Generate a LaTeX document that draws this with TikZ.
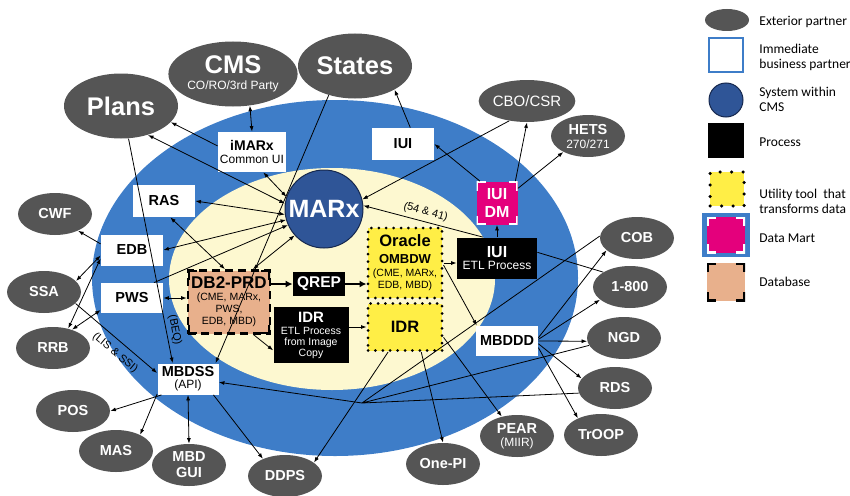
\documentclass[tikz,border=0pt]{standalone}
\usepackage{fontspec}
\setmainfont{Liberation Sans}
\newfontfamily\legendfont{Carlito}
\usetikzlibrary{arrows.meta,shapes.geometric}
\definecolor{ringblue}{RGB}{62,125,200}
\definecolor{cream}{RGB}{253,248,208}
\definecolor{partnergray}{RGB}{85,85,85}
\definecolor{marxblue}{RGB}{47,85,151}
\definecolor{marxdark}{RGB}{22,40,78}
\definecolor{peach}{RGB}{232,176,140}
\definecolor{utilyellow}{RGB}{255,238,70}
\definecolor{dmmagenta}{RGB}{228,0,124}
\newcommand\setfs[2]{\fontsize{#1}{#2}\selectfont}

\begin{document}
\begin{tikzpicture}[x=1pt, y=-1pt, line width=0.8pt, >={Latex[length=5.5pt,width=4pt]},
  cornermarks/.style={path picture={\draw[#1, solid, line cap=butt, line width=3.5pt]
    ([yshift=-9pt]path picture bounding box.north west) -- (path picture bounding box.north west) -- ([xshift=9pt]path picture bounding box.north west)
    ([yshift=-9pt]path picture bounding box.north east) -- (path picture bounding box.north east) -- ([xshift=-9pt]path picture bounding box.north east)
    ([yshift=9pt]path picture bounding box.south west) -- (path picture bounding box.south west) -- ([xshift=9pt]path picture bounding box.south west)
    ([yshift=9pt]path picture bounding box.south east) -- (path picture bounding box.south east) -- ([xshift=-9pt]path picture bounding box.south east);}},
  partner/.style={ellipse, fill=partnergray, text=white, inner sep=0pt, align=center, minimum width=74pt, minimum height=42pt, font=\bfseries\setfs{14.5}{15}},
  bigpartner/.style={partner, minimum width=114pt, minimum height=65pt, font=\bfseries\setfs{25.5}{16}},
  bizbox/.style={rectangle, fill=white, inner sep=0pt, align=center, minimum width=62pt, minimum height=31pt, font=\bfseries\setfs{14.5}{12.5}},
  process/.style={rectangle, fill=black, text=white, inner sep=0pt, align=center},
  utility/.style={rectangle, fill=utilyellow, draw=black, line width=3pt, line cap=round, dash pattern=on 0pt off 7.4pt, inner sep=0pt, align=center},
  database/.style={rectangle, fill=peach, draw=black, line width=2.6pt, dash pattern=on 8pt off 5pt, inner sep=0pt, align=center, cornermarks=black},
  datamart/.style={rectangle, fill=dmmagenta, text=white, inner sep=0pt, align=center, cornermarks=white},
  flowlabel/.style={font=\setfs{11}{12}, inner sep=3pt},
  bigflow/.style={line width=2.2pt, -{Latex[length=7pt,width=7pt]}},
  legendtxt/.style={anchor=west, align=left, inner sep=0pt, font=\legendfont\setfs{13.5}{15}}]
\useasboundingbox (0,0) rectangle (850,495);
% rings
\fill[ringblue] (335,278) ellipse [x radius=243pt, y radius=178pt];
\fill[cream] (332,279) ellipse [x radius=163pt, y radius=111pt];

% exterior partners
\node[bigpartner] (plans) at (121,106) {Plans};
\node[bigpartner] (cms) at (233,74) {CMS\\{\mdseries\setfs{12}{13}CO/RO/3rd Party}};
\node[bigpartner] (states) at (355,66) {States};
\node[partner, font=\setfs{15}{16}] (cbo) at (527,101) {CBO/CSR};
\node[partner, font=\bfseries\setfs{14.5}{14}] (hets) at (588,136) {HETS\\{\mdseries\setfs{12}{13}270/271}};
\node[partner] (cwf) at (55,214) {CWF};
\node[partner] (ssa) at (44,292) {SSA};
\node[partner] (rrb) at (53,348) {RRB};
\node[partner] (pos) at (73,411) {POS};
\node[partner] (mas) at (116,451) {MAS};
\node[partner, font=\bfseries\setfs{14.5}{16}] (mbdgui) at (189,465) {MBD\\GUI};
\node[partner] (ddps) at (285,476) {DDPS};
\node[partner] (onepi) at (443,464) {One-PI};
\node[partner, font=\bfseries\setfs{14.5}{13.5}] (pear) at (517,436) {PEAR\\{\mdseries\setfs{12}{13}(MIIR)}};
\node[partner] (troop) at (601,435) {TrOOP};
\node[partner] (rds) at (615,388) {RDS};
\node[partner] (ngd) at (624,338) {NGD};
\node[partner] (n1800) at (630,287) {1-800};
\node[partner] (cob) at (637,238) {COB};

% immediate business partners
\node[bizbox, minimum width=68pt, minimum height=40pt, font=\bfseries\setfs{14}{12.5}] (imarx) at (252,152) {iMARx\\{\mdseries\setfs{12}{13}Common UI}};
\node[bizbox, minimum height=32pt] (iuitop) at (403,144) {IUI};
\node[bizbox, minimum height=32pt] (ras) at (164,201) {RAS};
\node[bizbox] (edb) at (132,250) {EDB};
\node[bizbox, minimum height=30pt] (pws) at (132,298) {PWS};
\node[bizbox, minimum width=61pt, font=\bfseries\setfs{14.5}{12}] (mbdss) at (188,379) {MBDSS\\{\mdseries\setfs{12}{13}(API)}};
\node[bizbox, minimum height=30pt] (mbddd) at (507,341) {MBDDD};

% system, processes, tools
\node[circle, fill=marxblue, draw=marxdark, line width=1pt, minimum size=78pt, inner sep=0pt, text=white, font=\bfseries\setfs{25}{26}] (marx) at (324,209) {MARx};
\node[database, minimum width=82pt, minimum height=63pt, font=\bfseries\setfs{17}{12}] (db2) at (229,302) {DB2-PRD\\{\mdseries\setfs{10.5}{12}(CME, MARx,}\\{\mdseries\setfs{10.5}{12}PWS,}\\{\mdseries\setfs{10.5}{12}EDB, MBD)}};
\node[process, minimum width=52pt, minimum height=24pt, font=\bfseries\setfs{15.5}{16}] (qrep) at (319,284) {QREP};
\node[process, minimum width=75pt, minimum height=56pt, font=\bfseries\setfs{15}{11}] (idretl) at (311,335) {IDR\\[1pt]{\mdseries\setfs{10.5}{11}ETL Process}\\{\mdseries\setfs{10.5}{11}from Image}\\{\mdseries\setfs{10.5}{11}Copy}};
\node[process, minimum width=80pt, minimum height=41pt, font=\bfseries\setfs{16}{12.5}] (iuietl) at (497,258) {IUI\\{\mdseries\setfs{12}{13}ETL Process}};
\node[utility, minimum width=74pt, minimum height=70pt, font=\bfseries\setfs{16.5}{12}] (oracle) at (405,263) {Oracle\\[5pt]{\setfs{13}{13}OMBDW}\\[1pt]{\mdseries\setfs{10.5}{12}(CME, MARx,}\\{\mdseries\setfs{10.5}{12}EDB, MBD)}};
\node[utility, minimum width=74pt, minimum height=47pt, font=\bfseries\setfs{16.5}{18}] (idry) at (405,327) {IDR};
\node[datamart, minimum width=41pt, minimum height=43pt, font=\bfseries\setfs{16}{18}] (iuidm) at (497,203) {IUI\\DM};

% connectors
\draw[<->] (imarx.north) -- (cms.-62);
\draw[->] (imarx.170) -- (plans.-18);
\draw[<->] (plans.-47) -- (marx.172);
\draw[<->] (imarx.-61) -- (marx.162);
\draw[<->] (ras.east) -- (marx.188);
\draw[<->] (edb.east) -- (marx.196);
\draw[->] (pws.35) -- (marx.204);
\draw[<->] (ras.-69) -- (db2.97);
\draw[<->] (marx.222) -- (db2.54);
\draw[->] (states.228) -- (mbdss.30);
\draw[->] (plans.-77) -- node[flowlabel, pos=.86, rotate=-79, anchor=south] {(BEQ)} (mbdss.134);
\draw[->] (iuitop.66) -- (states.-31);
\draw[->] (iuidm.128) -- (iuitop.east);
\draw[->] (iuidm.50) -- (cbo.south);
\draw[->] (iuidm.35) -- (hets.213);
\draw[->] (cbo.228) -- (marx.14);
\draw[->] (iuietl.124) -- node[flowlabel, rotate=-15, anchor=south, inner sep=4pt] {(54 \& 41)} (marx.5);
\draw[->] (iuietl.north) -- (iuidm.south);
\draw[->] (oracle.east) -- (oracle.east -| iuietl.west);
\draw[->] (oracle.-3) -- (mbddd.153);
\draw (iuietl.8) -- (n1800.151);
\draw[->] (mbddd.6) -- (cob.202);
\draw[->] (mbddd.3) -- (n1800.203);
\draw[->] (mbddd.east) -- (ngd.185);
\draw[->] (mbddd.-5) -- (rds.164);
\draw[->] (mbddd.-12) -- (troop.144);
\coordinate (hub) at (362,403);
\draw[->] (hub) -- (mbdss.-6);
\draw (hub) -- (cob.177) (hub) -- (ngd.192) (hub) -- (rds.188);
\draw[->] (idry.236) -- (ddps.25);
\draw[->] (idry.-57) -- (onepi.north);
\draw[->] (idry.-15) -- (pear.128);
\draw[->] (idretl.east |- idry) -- (idry.west);
\draw[bigflow] (qrep.east) -- (qrep.east -| oracle.west);
\draw[bigflow] (db2.east |- qrep) -- (qrep.west);
\draw[->] (db2.-53) -- (idretl.202);
\draw[<->] (pws.east) -- (pws.east -| db2.west);
\draw[<->] (mbdss.south) -- (mbdgui.north);
\draw[->] (mbdss.211) -- (pos.east);
\draw[->] (mbdss.206) -- (mas.34);
\draw[->] (mbdss.-32) -- (ddps.142);
\draw[->] (ssa.-20) -- node[flowlabel, pos=.58, rotate=-40, anchor=north, inner sep=6.5pt] {(LIS \& SSI)} (mbdss.169);
\draw[->] (edb.169) -- (cwf.-36);
\draw[<->] (edb.190) -- (ssa.19);
\draw[<->] (edb.195) -- (rrb.52);
\draw[<->] (pws.201) -- (rrb.44);

% legend
\node[partner, minimum width=44pt, minimum height=22pt] (lgext) at (727,20) {};
\node[rectangle, fill=white, draw=ringblue, line width=2.5pt, minimum width=34pt, minimum height=34pt] (lgbiz) at (726,55) {};
\node[circle, fill=marxblue, draw=marxdark, line width=1pt, minimum size=34pt, inner sep=0pt] (lgsys) at (726,100) {};
\node[process, minimum width=36pt, minimum height=35pt] (lgproc) at (726,140) {};
\node[utility, line width=3.5pt, dash pattern=on 0pt off 11.5pt, minimum width=34pt, minimum height=34pt] (lgutil) at (727,189) {};
\node[rectangle, fill=ringblue, minimum width=48pt, minimum height=44pt] (lgdm) at (726,235) {};
\node[datamart, minimum width=38pt, minimum height=36pt] (lgdminner) at (lgdm) {};
\node[rectangle, fill=peach, cornermarks=black, minimum width=38pt, minimum height=38pt] (lgdb) at (726,282) {};
\node[legendtxt] (lgexttxt) at (759,21.5) {Exterior partner};
\node[legendtxt] (lgbiztxt) at (759,57) {Immediate\\business partner};
\node[legendtxt] (lgsystxt) at (759,99) {System within\\CMS};
\node[legendtxt] (lgproctxt) at (759,142) {Process};
\node[legendtxt] (lgutiltxt) at (759,201) {Utility tool\ \ that\\transforms data};
\node[legendtxt] (lgdmtxt) at (759,238) {Data Mart};
\node[legendtxt] (lgdbtxt) at (759,282) {Database};
\end{tikzpicture}
\end{document}
